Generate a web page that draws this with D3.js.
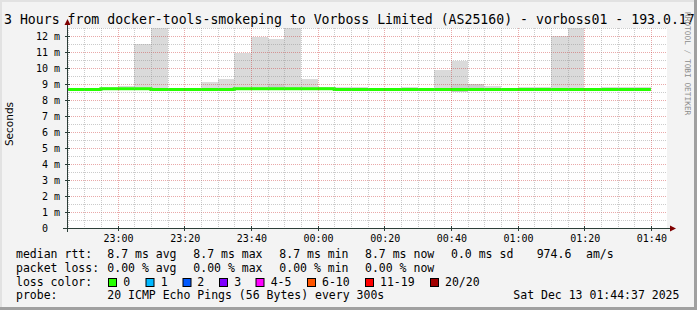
<!DOCTYPE html>
<html><head><meta charset="utf-8">
<script src="https://cdn.jsdelivr.net/npm/d3@7"></script>
<style>
html,body{margin:0;padding:0;background:#f3f3f3;}
svg{display:block;}
text{font-family:"DejaVu Sans Mono",monospace;}
</style></head>
<body><svg id="c" width="697" height="310"></svg>
<script>
// ---- data ----
const title = "3 Hours from docker-tools-smokeping to Vorboss Limited (AS25160) - vorboss01 - 193.0.17";
const yLabel = "Seconds";
const watermark = "RRDTOOL / TOBI OETIKER";
// 5-minute intervals, start times (local), from 22:40 Dec 12 to 01:35 Dec 13
const intervalStarts = ["22:40","22:45","22:50","22:55","23:00","23:05","23:10","23:15","23:20","23:25","23:30","23:35",
  "23:40","23:45","23:50","23:55","00:00","00:05","00:10","00:15","00:20","00:25","00:30","00:35",
  "00:40","00:45","00:50","00:55","01:00","01:05","01:10","01:15","01:20","01:25","01:30","01:35"];
// median rtt (ms)
const median = [8.65,8.65,8.65,8.71,8.71,8.71,8.65,8.65,8.65,8.65,8.65,8.71,
  8.71,8.71,8.71,8.71,8.71,8.65,8.65,8.65,8.65,8.65,8.65,8.65,
  8.66,8.65,8.65,8.65,8.65,8.65,8.65,8.65,8.65,8.65,8.65,8.65];
// smoke upper (max ping, ms)
const smokeHi = [8.72,8.72,8.72,8.83,8.87,11.5,13.0,8.75,8.75,9.15,9.31,10.96,
  11.94,11.81,13.0,9.31,8.83,8.83,8.83,8.75,8.75,8.83,8.75,9.88,
  10.46,9.0,8.87,8.75,8.83,8.8,12.0,13.0,8.75,8.83,8.83,8.83];
// smoke lower (min ping, ms)
const smokeLo = [8.6,8.6,8.6,8.66,8.66,8.66,8.6,8.6,8.6,8.6,8.6,8.66,
  8.66,8.66,8.66,8.66,8.66,8.6,8.6,8.6,8.6,8.6,8.6,8.6,
  8.52,8.6,8.6,8.6,8.6,8.6,8.6,8.6,8.6,8.6,8.6,8.6];
// denser smoke band upper bound (ms)
const denseHi = [8.65,8.65,8.65,8.71,8.71,8.75,8.7,8.65,8.65,8.7,8.7,8.75,
  8.8,9.0,8.8,8.75,8.8,8.75,8.65,8.65,8.65,8.65,8.65,8.7,
  9.0,9.0,8.7,8.65,8.65,8.65,8.7,8.7,8.65,8.65,8.65,8.65];
const yTicks = [0,1,2,3,4,5,6,7,8,9,10,11,12];
const lossLabels = ["0","1","2","3","4-5","6-10","11-19","20/20"];
const lossColors = ["#26ff00","#00b8ff","#0059ff","#7e00ff","#ff00ff","#ff5500","#ff0000","#a10000"];
const legendRows = [
  ["median rtt:", "8.7 ms avg", "8.7 ms max", "8.7 ms min", "8.7 ms now", "0.0 ms sd", "974.6", "am/s"],
  ["packet loss:", "0.00 % avg", "0.00 % max", "0.00 % min", "0.00 % now"],
];
const probeText = ["probe:", "20 ICMP Echo Pings (56 Bytes) every 300s"];
const dateText = "Sat Dec 13 01:44:37 2025";

// ---- drawing ----
const svg = d3.select("#c");
const W = 697, H = 310;
const L = 67, T = 28, PW = 600, PH = 200;
const parse = s => { const [h,m] = s.split(":").map(Number); return h >= 12 ? new Date(2025,11,12,h,m) : new Date(2025,11,13,h,m); };
const t0 = new Date(2025,11,12,22,44,50), t1 = new Date(2025,11,13,1,44,50);
const x = d3.scaleTime().domain([t0,t1]).range([L, L+PW]);
const y = d3.scaleLinear().domain([0,12.5]).range([T+PH, T]);

svg.append("rect").attr("width",W).attr("height",H).attr("fill","#f3f3f3");
// shade frame
svg.append("rect").attr("x",0).attr("y",0).attr("width",W).attr("height",2).attr("fill","#e2e2e2");
svg.append("rect").attr("x",0).attr("y",0).attr("width",2).attr("height",H).attr("fill","#e2e2e2");
svg.append("rect").attr("x",W-3).attr("y",0).attr("width",3).attr("height",H).attr("fill","#a0a0a0");
svg.append("rect").attr("x",0).attr("y",H-3).attr("width",W).attr("height",3).attr("fill","#a0a0a0");

svg.append("rect").attr("x",L).attr("y",T).attr("width",PW).attr("height",PH).attr("fill","#fff");
svg.append("clipPath").attr("id","pc").append("rect").attr("x",L).attr("y",T).attr("width",PW).attr("height",PH);

const data = intervalStarts.map((s,i) => {
  const a = parse(s);
  return {a, b: new Date(+a + 300000), med: median[i], hi: smokeHi[i], lo: smokeLo[i], dh: denseHi[i]};
});
const g = svg.append("g").attr("clip-path","url(#pc)");
g.selectAll("rect.sm").data(data).join("rect").attr("class","sm")
  .attr("x", d => x(d.a)).attr("width", d => x(d.b) - x(d.a))
  .attr("y", d => y(d.hi)).attr("height", d => y(d.lo) - y(d.hi))
  .attr("fill","#dadada").attr("shape-rendering","crispEdges");
g.selectAll("rect.dn").data(data).join("rect").attr("class","dn")
  .attr("x", d => x(d.a)).attr("width", d => x(d.b) - x(d.a))
  .attr("y", d => y(d.dh)).attr("height", d => Math.max(0, y(d.lo) - y(d.dh)))
  .attr("fill","#cdcdcd").attr("shape-rendering","crispEdges");

// grid
const grid = svg.append("g");
const minorY = d3.range(0.5, 12.6, 1);
grid.selectAll("line.my").data(minorY).join("line")
  .attr("x1",L).attr("x2",L+PW).attr("y1",d=>Math.round(y(d))+0.5).attr("y2",d=>Math.round(y(d))+0.5)
  .attr("stroke","rgba(140,140,140,0.45)").attr("stroke-dasharray","1,1");
grid.selectAll("line.My").data(yTicks.filter(v=>v>0)).join("line")
  .attr("x1",L).attr("x2",L+PW).attr("y1",d=>Math.round(y(d))+0.5).attr("y2",d=>Math.round(y(d))+0.5)
  .attr("stroke","rgba(200,40,40,0.4)").attr("stroke-dasharray","1,1");
const minorX = d3.timeMinute.every(5).range(t0,t1).filter(d => d.getMinutes() % 20 !== 0);
const majorX = d3.timeMinute.every(20).range(t0,t1);
grid.selectAll("line.mx").data(minorX).join("line")
  .attr("x1",d=>Math.round(x(d))+0.5).attr("x2",d=>Math.round(x(d))+0.5).attr("y1",T).attr("y2",T+PH)
  .attr("stroke","rgba(140,140,140,0.45)").attr("stroke-dasharray","1,1");
grid.selectAll("line.Mx").data(majorX).join("line")
  .attr("x1",d=>Math.round(x(d))+0.5).attr("x2",d=>Math.round(x(d))+0.5).attr("y1",T).attr("y2",T+PH)
  .attr("stroke","rgba(200,40,40,0.4)").attr("stroke-dasharray","1,1");

// median line
const line = d3.line().x(d=>x(d.t)).y(d=>y(d.v)).curve(d3.curveStepAfter);
const pts = data.map(d=>({t:d.a, v:d.med}));
pts.push({t:data[data.length-1].b, v:median[median.length-1]});
g.append("path").attr("d", line(pts)).attr("fill","none").attr("stroke",lossColors[0]).attr("stroke-width",3);

// axes
const axisC = "#2c3e38";
svg.append("line").attr("x1",L-4).attr("x2",L+PW+4).attr("y1",T+PH+0.5).attr("y2",T+PH+0.5).attr("stroke",axisC);
svg.append("line").attr("x1",L+0.5).attr("x2",L+0.5).attr("y1",T+PH+4).attr("y2",T-4).attr("stroke",axisC);
svg.append("path").attr("d",`M${L+PW+3},${T+PH-2.5}L${L+PW+9},${T+PH+0.5}L${L+PW+3},${T+PH+3.5}Z`).attr("fill","#7f0000");
svg.append("path").attr("d",`M${L-2.5},${T-3}L${L+0.5},${T-9}L${L+3.5},${T-3}Z`).attr("fill","#7f0000");
// ticks
svg.selectAll("line.tx").data(majorX).join("line")
  .attr("x1",d=>Math.round(x(d))+0.5).attr("x2",d=>Math.round(x(d))+0.5).attr("y1",T+PH-2).attr("y2",T+PH+3).attr("stroke",axisC);
svg.selectAll("line.ty").data(yTicks).join("line")
  .attr("x1",L-2).attr("x2",L+3).attr("y1",d=>Math.round(y(d))+0.5).attr("y2",d=>Math.round(y(d))+0.5).attr("stroke",axisC);

// tick labels
svg.selectAll("text.yl").data(yTicks).join("text")
  .attr("x",60).attr("y",d=>y(d)+3.5).attr("text-anchor","end").attr("font-size",10)
  .style("white-space","pre")
  .text(d => d === 0 ? "0  " : d + " m");
const tf = d3.timeFormat("%H:%M");
svg.selectAll("text.xl").data(majorX).join("text")
  .attr("x",d=>x(d)+1).attr("y",242).attr("text-anchor","middle").attr("font-size",10).text(tf);

// title
svg.append("text").attr("x",4).attr("y",24).attr("font-size",13.2).text(title);
// y label
svg.append("text").attr("transform","translate(13,124) rotate(-90)").attr("text-anchor","middle")
  .style("font-family","'DejaVu Sans',sans-serif").attr("font-size",10.5).text(yLabel);
// watermark
svg.append("text").attr("transform","translate(685,12) rotate(90)").attr("font-size",7.8)
  .attr("fill","#8c8c8c").text(watermark);

// legend
const colX = [16, 107.3, 193.3, 279.3, 365, 451, 536.7, 586];
const baseY = [258, 271.5];
legendRows.forEach((row,r) => {
  row.forEach((s,i) => svg.append("text").attr("x",colX[i]).attr("y",baseY[r]).attr("font-size",11.5).style("white-space","pre").text(s));
});
svg.append("text").attr("x",16).attr("y",285.5).attr("font-size",11.5).text("loss color:");
const boxX = [108.5,146,183,219.5,256,307.5,365.5,430.5];
const labX = [123.3,160.7,197.3,234.3,270.7,322,380,445];
lossLabels.forEach((l,i) => {
  svg.append("rect").attr("x",boxX[i]).attr("y",278.5).attr("width",8).attr("height",8)
    .attr("fill",lossColors[i]).attr("stroke","#000");
  svg.append("text").attr("x",labX[i]).attr("y",285.5).attr("font-size",11.5).text(l);
});
svg.append("text").attr("x",16).attr("y",299).attr("font-size",11.5).text(probeText[0]);
svg.append("text").attr("x",107.3).attr("y",299).attr("font-size",11.5).text(probeText[1]);
svg.append("text").attr("x",513.3).attr("y",299).attr("font-size",11.5).text(dateText);
</script></body></html>
